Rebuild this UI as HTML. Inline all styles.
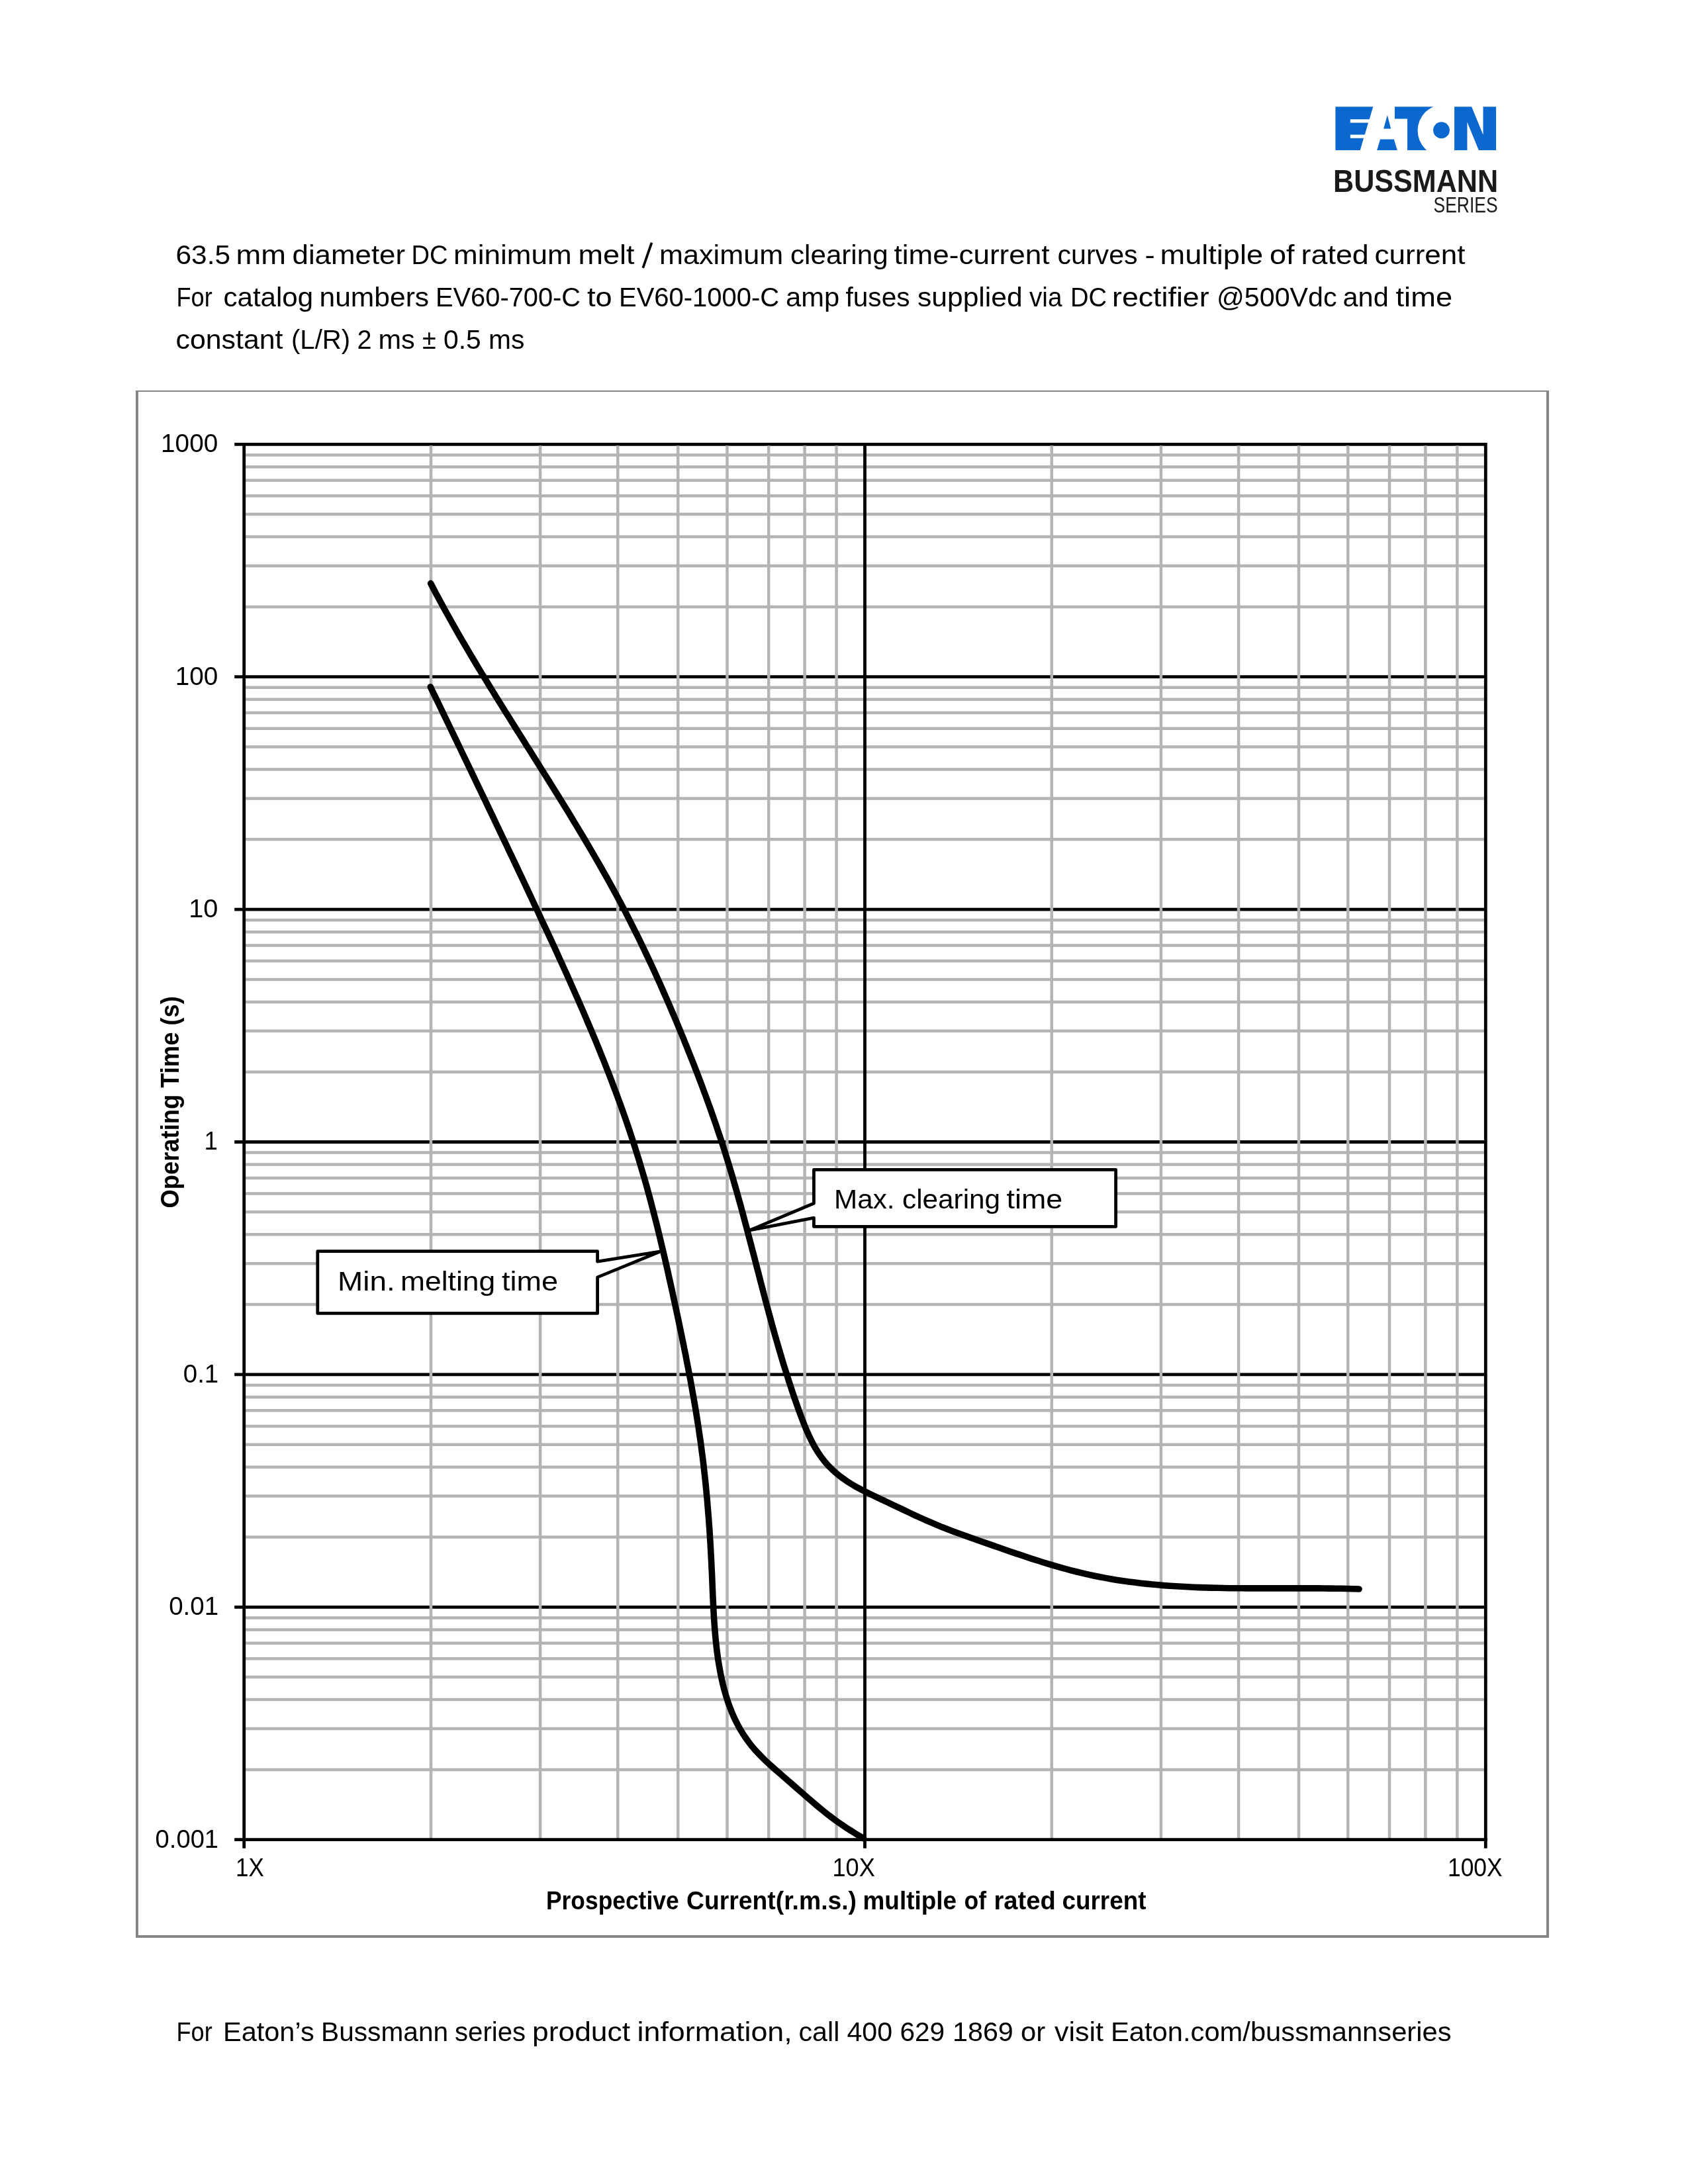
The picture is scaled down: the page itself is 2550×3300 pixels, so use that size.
<!DOCTYPE html>
<html><head><meta charset="utf-8"><title>Time-current curves</title>
<style>
html,body{margin:0;padding:0;background:#fff;}
body{width:2550px;height:3300px;overflow:hidden;}
svg{display:block;font-family:"Liberation Sans",sans-serif;fill:#000;will-change:transform;-webkit-font-smoothing:antialiased;}
</style></head><body>
<svg width="2550" height="3300" viewBox="0 0 2550 3300">
<rect x="205" y="590" width="2135" height="2" fill="#868686"/>
<rect x="205" y="590" width="4" height="2338" fill="#868686"/>
<rect x="2336" y="590" width="4" height="2338" fill="#868686"/>
<rect x="205" y="2924" width="2135" height="4" fill="#868686"/>
<path d="M368.7 2673.9H2244.3M368.7 2612.0H2244.3M368.7 2568.1H2244.3M368.7 2534.1H2244.3M368.7 2506.3H2244.3M368.7 2482.7H2244.3M368.7 2462.4H2244.3M368.7 2444.4H2244.3M368.7 2322.5H2244.3M368.7 2260.6H2244.3M368.7 2216.7H2244.3M368.7 2182.7H2244.3M368.7 2154.9H2244.3M368.7 2131.3H2244.3M368.7 2111.0H2244.3M368.7 2093.0H2244.3M368.7 1971.1H2244.3M368.7 1909.2H2244.3M368.7 1865.3H2244.3M368.7 1831.3H2244.3M368.7 1803.5H2244.3M368.7 1779.9H2244.3M368.7 1759.6H2244.3M368.7 1741.6H2244.3M368.7 1619.7H2244.3M368.7 1557.8H2244.3M368.7 1513.9H2244.3M368.7 1479.9H2244.3M368.7 1452.1H2244.3M368.7 1428.5H2244.3M368.7 1408.2H2244.3M368.7 1390.2H2244.3M368.7 1268.3H2244.3M368.7 1206.4H2244.3M368.7 1162.5H2244.3M368.7 1128.5H2244.3M368.7 1100.7H2244.3M368.7 1077.1H2244.3M368.7 1056.8H2244.3M368.7 1038.8H2244.3M368.7 916.9H2244.3M368.7 855.0H2244.3M368.7 811.1H2244.3M368.7 777.1H2244.3M368.7 749.3H2244.3M368.7 725.7H2244.3M368.7 705.4H2244.3M368.7 687.4H2244.3" stroke="#b4b4b4" stroke-width="4.5" fill="none"/>
<path d="M354.2 2428.3H2244.3M354.2 2076.9H2244.3M354.2 1725.5H2244.3M354.2 1374.1H2244.3M354.2 1022.7H2244.3M354.2 671.3H2244.3" stroke="#000" stroke-width="4.8" fill="none"/>
<path d="M651.0 673.3V2779.7M816.1 673.3V2779.7M933.3 673.3V2779.7M1024.2 673.3V2779.7M1098.5 673.3V2779.7M1161.2 673.3V2779.7M1215.6 673.3V2779.7M1263.6 673.3V2779.7M1588.8 673.3V2779.7M1753.9 673.3V2779.7M1871.1 673.3V2779.7M1962.0 673.3V2779.7M2036.3 673.3V2779.7M2099.0 673.3V2779.7M2153.4 673.3V2779.7M2201.4 673.3V2779.7" stroke="#b4b4b4" stroke-width="4.5" fill="none"/>
<path d="M1306.5 668.9V2792.7M2244.3 668.9V2792.7" stroke="#000" stroke-width="4.8" fill="none"/>
<path d="M368.7 668.9V2792.7M354.2 2779.7H2246.7" stroke="#000" stroke-width="4.8" fill="none"/>
<path d="M650.6 881.4L654.7 889.3L658.9 897.2L663.1 905.1L667.4 912.9L671.6 920.7L676.0 928.5L680.3 936.3L684.7 944.1L689.1 951.8L693.5 959.6L698.0 967.3L702.5 975.0L707.0 982.7L711.5 990.4L716.1 998.0L720.7 1005.7L725.3 1013.4L729.9 1021.0L734.6 1028.6L739.2 1036.2L743.9 1043.8L748.6 1051.4L753.3 1059.0L758.0 1066.6L762.7 1074.2L767.5 1081.8L772.2 1089.3L777.0 1096.9L781.7 1104.5L786.5 1112.0L791.2 1119.6L796.0 1127.2L800.8 1134.7L805.5 1142.3L810.3 1149.8L815.0 1157.4L819.8 1165.0L824.5 1172.5L829.3 1180.1L834.0 1187.7L838.7 1195.3L843.5 1202.8L848.2 1210.4L852.8 1218.0L857.5 1225.6L862.2 1233.3L866.8 1240.9L871.4 1248.5L876.0 1256.2L880.6 1263.8L885.2 1271.5L889.7 1279.2L894.2 1286.9L898.7 1294.6L903.2 1302.3L907.6 1310.0L912.0 1317.8L916.4 1325.5L920.7 1333.3L925.0 1341.1L929.3 1349.0L933.5 1356.8L937.7 1364.6L941.9 1372.5L946.0 1380.4L950.1 1388.4L954.1 1396.3L958.1 1404.3L962.1 1412.2L966.0 1420.2L969.9 1428.3L973.8 1436.3L977.6 1444.4L981.4 1452.4L985.2 1460.5L988.9 1468.6L992.6 1476.7L996.3 1484.9L999.9 1493.0L1003.5 1501.2L1007.1 1509.4L1010.7 1517.6L1014.2 1525.8L1017.7 1534.0L1021.2 1542.2L1024.6 1550.5L1028.0 1558.7L1031.5 1567.0L1034.8 1575.3L1038.2 1583.6L1041.5 1591.9L1044.8 1600.2L1048.1 1608.5L1051.3 1616.8L1054.6 1625.2L1057.7 1633.5L1060.9 1641.9L1064.0 1650.3L1067.1 1658.7L1070.1 1667.1L1073.2 1675.5L1076.1 1683.9L1079.1 1692.3L1082.0 1700.8L1084.8 1709.2L1087.7 1717.7L1090.5 1726.1L1093.2 1734.6L1095.9 1743.1L1098.5 1751.6L1101.2 1760.1L1103.7 1768.6L1106.3 1777.2L1108.7 1785.7L1111.2 1794.3L1113.6 1802.8L1116.0 1811.4L1118.4 1819.9L1120.7 1828.5L1123.0 1837.1L1125.3 1845.7L1127.6 1854.3L1129.9 1862.9L1132.1 1871.5L1134.4 1880.1L1136.6 1888.7L1138.9 1897.3L1141.1 1905.9L1143.3 1914.5L1145.6 1923.1L1147.8 1931.8L1150.0 1940.4L1152.3 1949.0L1154.5 1957.6L1156.8 1966.2L1159.1 1974.8L1161.4 1983.5L1163.8 1992.1L1166.1 2000.7L1168.5 2009.3L1170.9 2017.9L1173.4 2026.5L1175.9 2035.1L1178.4 2043.7L1180.9 2052.2L1183.5 2060.8L1186.2 2069.4L1188.9 2077.9L1191.6 2086.5L1194.4 2095.1L1197.2 2103.6L1200.1 2112.1L1203.1 2120.6L1206.1 2129.2L1209.2 2137.7L1212.4 2146.1L1215.7 2154.5L1219.2 2162.8L1222.9 2171.0L1226.8 2178.9L1231.0 2186.7L1235.6 2194.2L1240.5 2201.4L1245.9 2208.4L1251.6 2214.9L1257.9 2221.1L1264.5 2227.0L1271.5 2232.5L1278.8 2237.7L1286.4 2242.5L1294.1 2247.1L1302.0 2251.3L1310.1 2255.4L1318.2 2259.3L1326.3 2263.1L1334.3 2266.9L1342.4 2270.8L1350.4 2274.6L1358.5 2278.4L1366.5 2282.2L1374.5 2286.0L1382.6 2289.8L1390.7 2293.5L1398.8 2297.1L1407.0 2300.7L1415.2 2304.2L1423.4 2307.6L1431.7 2310.8L1440.0 2314.0L1448.4 2317.1L1456.7 2320.1L1465.1 2323.1L1473.6 2326.0L1482.0 2329.0L1490.4 2331.9L1498.9 2334.9L1507.3 2337.8L1515.8 2340.8L1524.2 2343.7L1532.7 2346.6L1541.2 2349.4L1549.7 2352.3L1558.2 2355.1L1566.7 2357.8L1575.2 2360.5L1583.8 2363.1L1592.3 2365.7L1600.9 2368.1L1609.5 2370.5L1618.1 2372.8L1626.8 2375.0L1635.4 2377.1L1644.1 2379.1L1652.8 2381.0L1661.5 2382.8L1670.2 2384.4L1679.0 2386.0L1687.7 2387.4L1696.5 2388.7L1705.3 2390.0L1714.1 2391.1L1723.0 2392.2L1731.8 2393.1L1740.7 2394.0L1749.5 2394.8L1758.4 2395.6L1767.3 2396.2L1776.2 2396.8L1785.1 2397.3L1794.1 2397.8L1803.0 2398.2L1811.9 2398.6L1820.9 2398.9L1829.8 2399.1L1838.8 2399.3L1847.8 2399.5L1856.7 2399.7L1865.7 2399.8L1874.7 2399.8L1883.6 2399.9L1892.6 2399.9L1901.6 2399.9L1910.5 2399.9L1919.5 2399.9L1928.4 2399.9L1937.4 2399.9L1946.4 2399.9L1955.3 2399.9L1964.2 2399.9L1973.2 2399.9L1982.1 2399.9L1991.0 2399.9L1999.9 2400.0L2008.8 2400.1L2017.7 2400.2L2026.6 2400.3L2035.4 2400.5L2044.3 2400.8L2053.1 2401.0" stroke="#000" stroke-width="9.6" fill="none" stroke-linecap="round" stroke-linejoin="round"/>
<path d="M650.3 1037.9L653.5 1044.6L656.7 1051.2L660.0 1057.9L663.2 1064.5L666.4 1071.2L669.6 1077.8L672.8 1084.5L676.0 1091.1L679.2 1097.8L682.4 1104.4L685.6 1111.1L688.8 1117.7L692.0 1124.4L695.2 1131.0L698.4 1137.7L701.6 1144.3L704.8 1151.0L708.0 1157.6L711.2 1164.3L714.3 1170.9L717.5 1177.5L720.7 1184.2L723.9 1190.8L727.1 1197.5L730.3 1204.1L733.5 1210.8L736.6 1217.4L739.8 1224.1L743.0 1230.7L746.2 1237.4L749.3 1244.0L752.5 1250.7L755.7 1257.3L758.8 1264.0L762.0 1270.6L765.2 1277.3L768.3 1284.0L771.5 1290.6L774.7 1297.3L777.8 1303.9L781.0 1310.6L784.1 1317.3L787.3 1323.9L790.4 1330.6L793.6 1337.3L796.7 1343.9L799.8 1350.6L803.0 1357.3L806.1 1364.0L809.2 1370.6L812.4 1377.3L815.5 1384.0L818.6 1390.7L821.7 1397.4L824.9 1404.1L828.0 1410.8L831.1 1417.4L834.2 1424.1L837.3 1430.8L840.4 1437.6L843.4 1444.3L846.5 1451.0L849.6 1457.7L852.6 1464.4L855.7 1471.1L858.7 1477.9L861.7 1484.6L864.7 1491.4L867.7 1498.1L870.7 1504.9L873.7 1511.6L876.6 1518.4L879.6 1525.1L882.5 1531.9L885.4 1538.7L888.3 1545.5L891.2 1552.3L894.1 1559.1L896.9 1565.9L899.8 1572.7L902.6 1579.5L905.4 1586.3L908.1 1593.2L910.9 1600.0L913.6 1606.8L916.3 1613.7L919.0 1620.6L921.7 1627.4L924.3 1634.3L926.9 1641.2L929.5 1648.1L932.1 1655.0L934.6 1661.9L937.2 1668.8L939.7 1675.8L942.1 1682.7L944.6 1689.7L947.0 1696.6L949.4 1703.6L951.7 1710.6L954.0 1717.6L956.3 1724.6L958.6 1731.6L960.8 1738.6L963.0 1745.6L965.2 1752.7L967.3 1759.7L969.4 1766.8L971.5 1773.9L973.6 1780.9L975.6 1788.0L977.6 1795.1L979.5 1802.3L981.5 1809.4L983.4 1816.5L985.2 1823.6L987.1 1830.8L988.9 1837.9L990.8 1845.1L992.6 1852.2L994.3 1859.4L996.1 1866.6L997.8 1873.8L999.5 1881.0L1001.2 1888.1L1002.9 1895.3L1004.6 1902.5L1006.2 1909.7L1007.9 1916.9L1009.5 1924.1L1011.1 1931.4L1012.7 1938.6L1014.3 1945.8L1015.9 1953.0L1017.4 1960.2L1019.0 1967.4L1020.6 1974.6L1022.1 1981.9L1023.7 1989.1L1025.2 1996.3L1026.7 2003.5L1028.2 2010.7L1029.7 2017.9L1031.2 2025.2L1032.7 2032.4L1034.1 2039.6L1035.6 2046.8L1037.0 2054.1L1038.4 2061.3L1039.8 2068.5L1041.2 2075.8L1042.6 2083.0L1043.9 2090.3L1045.2 2097.5L1046.5 2104.8L1047.8 2112.0L1049.1 2119.3L1050.3 2126.5L1051.5 2133.8L1052.7 2141.1L1053.8 2148.3L1055.0 2155.6L1056.0 2162.9L1057.1 2170.2L1058.2 2177.5L1059.2 2184.8L1060.1 2192.1L1061.1 2199.4L1062.0 2206.7L1062.9 2214.0L1063.7 2221.4L1064.5 2228.7L1065.3 2236.0L1066.1 2243.4L1066.8 2250.7L1067.5 2258.1L1068.2 2265.4L1068.8 2272.8L1069.4 2280.1L1070.0 2287.5L1070.6 2294.9L1071.1 2302.2L1071.7 2309.6L1072.2 2317.0L1072.6 2324.3L1073.1 2331.7L1073.5 2339.1L1073.9 2346.5L1074.3 2353.8L1074.7 2361.2L1075.0 2368.6L1075.4 2375.9L1075.7 2383.3L1076.0 2390.7L1076.3 2398.0L1076.6 2405.4L1076.9 2412.8L1077.3 2420.1L1077.6 2427.5L1078.0 2434.8L1078.4 2442.2L1078.9 2449.5L1079.4 2456.9L1080.0 2464.2L1080.6 2471.5L1081.3 2478.8L1082.1 2486.2L1082.9 2493.5L1083.9 2500.8L1084.9 2508.1L1086.1 2515.4L1087.4 2522.6L1088.7 2529.9L1090.3 2537.2L1091.9 2544.4L1093.7 2551.6L1095.7 2558.7L1097.8 2565.8L1100.1 2572.8L1102.6 2579.7L1105.3 2586.6L1108.2 2593.4L1111.3 2600.0L1114.7 2606.6L1118.2 2613.0L1122.1 2619.3L1126.1 2625.4L1130.4 2631.4L1134.9 2637.3L1139.6 2642.9L1144.6 2648.4L1149.7 2653.7L1154.9 2658.9L1160.3 2663.9L1165.8 2668.9L1171.3 2673.8L1176.9 2678.6L1182.4 2683.5L1188.0 2688.3L1193.5 2693.2L1199.1 2698.0L1204.6 2702.9L1210.2 2707.7L1215.8 2712.6L1221.3 2717.4L1226.9 2722.2L1232.5 2727.0L1238.2 2731.7L1243.9 2736.4L1249.6 2740.9L1255.4 2745.4L1261.3 2749.8L1267.3 2754.1L1273.4 2758.3L1279.6 2762.4L1285.8 2766.4L1292.0 2770.3L1298.4 2774.1L1304.7 2777.9" stroke="#000" stroke-width="9.6" fill="none" stroke-linecap="round" stroke-linejoin="round"/>
<path d="M1229.45 1767.4H1685.6V1853.4H1229.45V1840.1L1132.3 1859L1229.45 1818.2Z" fill="#fff" stroke="#000" stroke-width="4.8" stroke-linejoin="round"/>
<path d="M479.8 1890.7H902.6V1906.2L998 1890.8L902.6 1929.9V1984.4H479.8Z" fill="#fff" stroke="#000" stroke-width="4.8" stroke-linejoin="round"/>
<text x="265.50" y="398.60" font-size="41.3" textLength="82.65" lengthAdjust="spacingAndGlyphs">63.5</text>
<text x="356.50" y="398.60" font-size="41.3" textLength="75.48" lengthAdjust="spacingAndGlyphs">mm</text>
<text x="441.50" y="398.60" font-size="41.3" textLength="170.55" lengthAdjust="spacingAndGlyphs">diameter</text>
<text x="621.50" y="398.60" font-size="41.3" textLength="55.00" lengthAdjust="spacingAndGlyphs">DC</text>
<text x="685.00" y="398.60" font-size="41.3" textLength="178.70" lengthAdjust="spacingAndGlyphs">minimum</text>
<text x="873.50" y="398.60" font-size="41.3" textLength="85.12" lengthAdjust="spacingAndGlyphs">melt</text>
<path d="M971.3 404.8L984.5 366.6" stroke="#000" stroke-width="3.7" fill="none"/>
<text x="996.00" y="398.60" font-size="41.3" textLength="187.17" lengthAdjust="spacingAndGlyphs">maximum</text>
<text x="1194.00" y="398.60" font-size="41.3" textLength="147.63" lengthAdjust="spacingAndGlyphs">clearing</text>
<text x="1350.50" y="398.60" font-size="41.3" textLength="235.00" lengthAdjust="spacingAndGlyphs">time-current</text>
<text x="1597.50" y="398.60" font-size="41.3" textLength="121.08" lengthAdjust="spacingAndGlyphs">curves</text>
<text x="1729.50" y="398.60" font-size="41.3" textLength="15.19" lengthAdjust="spacingAndGlyphs">-</text>
<text x="1752.50" y="398.60" font-size="41.3" textLength="155.66" lengthAdjust="spacingAndGlyphs">multiple</text>
<text x="1918.00" y="398.60" font-size="41.3" textLength="37.59" lengthAdjust="spacingAndGlyphs">of</text>
<text x="1965.50" y="398.60" font-size="41.3" textLength="102.35" lengthAdjust="spacingAndGlyphs">rated</text>
<text x="2076.50" y="398.60" font-size="41.3" textLength="137.06" lengthAdjust="spacingAndGlyphs">current</text>
<text x="266.50" y="462.60" font-size="41.3" textLength="54.19" lengthAdjust="spacingAndGlyphs">For</text>
<text x="337.50" y="462.60" font-size="41.3" textLength="135.65" lengthAdjust="spacingAndGlyphs">catalog</text>
<text x="482.50" y="462.60" font-size="41.3" textLength="165.62" lengthAdjust="spacingAndGlyphs">numbers</text>
<text x="658.00" y="462.60" font-size="41.3" textLength="219.12" lengthAdjust="spacingAndGlyphs">EV60-700-C</text>
<text x="887.00" y="462.60" font-size="41.3" textLength="37.67" lengthAdjust="spacingAndGlyphs">to</text>
<text x="935.00" y="462.60" font-size="41.3" textLength="242.11" lengthAdjust="spacingAndGlyphs">EV60-1000-C</text>
<text x="1187.00" y="462.60" font-size="41.3" textLength="81.13" lengthAdjust="spacingAndGlyphs">amp</text>
<text x="1277.50" y="462.60" font-size="41.3" textLength="97.04" lengthAdjust="spacingAndGlyphs">fuses</text>
<text x="1386.00" y="462.60" font-size="41.3" textLength="158.62" lengthAdjust="spacingAndGlyphs">supplied</text>
<text x="1555.00" y="462.60" font-size="41.3" textLength="49.52" lengthAdjust="spacingAndGlyphs">via</text>
<text x="1617.00" y="462.60" font-size="41.3" textLength="55.01" lengthAdjust="spacingAndGlyphs">DC</text>
<text x="1680.00" y="462.60" font-size="41.3" textLength="146.58" lengthAdjust="spacingAndGlyphs">rectifier</text>
<text x="1838.00" y="462.60" font-size="41.3" textLength="181.61" lengthAdjust="spacingAndGlyphs">@500Vdc</text>
<text x="2028.50" y="462.60" font-size="41.3" textLength="69.27" lengthAdjust="spacingAndGlyphs">and</text>
<text x="2108.50" y="462.60" font-size="41.3" textLength="85.61" lengthAdjust="spacingAndGlyphs">time</text>
<text x="265.50" y="527.30" font-size="41.3" textLength="162.03" lengthAdjust="spacingAndGlyphs">constant</text>
<text x="440.00" y="527.30" font-size="41.3" textLength="89.26" lengthAdjust="spacingAndGlyphs">(L/R)</text>
<text x="539.50" y="527.30" font-size="41.3" textLength="22.04" lengthAdjust="spacingAndGlyphs">2</text>
<text x="571.50" y="527.30" font-size="41.3" textLength="55.35" lengthAdjust="spacingAndGlyphs">ms</text>
<text x="638.00" y="527.30" font-size="41.3" textLength="20.73" lengthAdjust="spacingAndGlyphs">±</text>
<text x="670.00" y="527.30" font-size="41.3" textLength="56.73" lengthAdjust="spacingAndGlyphs">0.5</text>
<text x="738.00" y="527.30" font-size="41.3" textLength="54.38" lengthAdjust="spacingAndGlyphs">ms</text>
<text x="266.50" y="3083.80" font-size="41.3" textLength="54.19" lengthAdjust="spacingAndGlyphs">For</text>
<text x="337.00" y="3083.80" font-size="41.3" textLength="137.65" lengthAdjust="spacingAndGlyphs">Eaton’s</text>
<text x="485.00" y="3083.80" font-size="41.3" textLength="192.17" lengthAdjust="spacingAndGlyphs">Bussmann</text>
<text x="687.00" y="3083.80" font-size="41.3" textLength="107.06" lengthAdjust="spacingAndGlyphs">series</text>
<text x="804.00" y="3083.80" font-size="41.3" textLength="148.07" lengthAdjust="spacingAndGlyphs">product</text>
<text x="962.50" y="3083.80" font-size="41.3" textLength="234.22" lengthAdjust="spacingAndGlyphs">information,</text>
<text x="1206.50" y="3083.80" font-size="41.3" textLength="61.87" lengthAdjust="spacingAndGlyphs">call</text>
<text x="1279.50" y="3083.80" font-size="41.3" textLength="68.58" lengthAdjust="spacingAndGlyphs">400</text>
<text x="1359.50" y="3083.80" font-size="41.3" textLength="67.68" lengthAdjust="spacingAndGlyphs">629</text>
<text x="1439.00" y="3083.80" font-size="41.3" textLength="91.78" lengthAdjust="spacingAndGlyphs">1869</text>
<text x="1542.00" y="3083.80" font-size="41.3" textLength="37.16" lengthAdjust="spacingAndGlyphs">or</text>
<text x="1593.00" y="3083.80" font-size="41.3" textLength="74.02" lengthAdjust="spacingAndGlyphs">visit</text>
<text x="1678.00" y="3083.80" font-size="41.3" textLength="514.54" lengthAdjust="spacingAndGlyphs">Eaton.com/bussmannseries</text>
<text x="243.10" y="683.10" font-size="38.5" textLength="86.11" lengthAdjust="spacingAndGlyphs">1000</text>
<text x="264.70" y="1034.50" font-size="38.5" textLength="64.55" lengthAdjust="spacingAndGlyphs">100</text>
<text x="285.30" y="1385.90" font-size="38.5" textLength="44.15" lengthAdjust="spacingAndGlyphs">10</text>
<text x="308.50" y="1737.30" font-size="38.5" textLength="20.36" lengthAdjust="spacingAndGlyphs">1</text>
<text x="276.80" y="2088.70" font-size="38.5" textLength="53.41" lengthAdjust="spacingAndGlyphs">0.1</text>
<text x="255.20" y="2440.10" font-size="38.5" textLength="74.97" lengthAdjust="spacingAndGlyphs">0.01</text>
<text x="234.60" y="2791.50" font-size="38.5" textLength="95.49" lengthAdjust="spacingAndGlyphs">0.001</text>
<text x="356.00" y="2835.00" font-size="38.5" textLength="42.79" lengthAdjust="spacingAndGlyphs">1X</text>
<text x="1257.50" y="2835.00" font-size="38.5" textLength="64.31" lengthAdjust="spacingAndGlyphs">10X</text>
<text x="2187.00" y="2835.00" font-size="38.5" textLength="82.64" lengthAdjust="spacingAndGlyphs">100X</text>
<text x="825.00" y="2885.00" font-size="38.5" font-weight="bold" textLength="200.56" lengthAdjust="spacingAndGlyphs">Prospective</text>
<text x="1037.00" y="2885.00" font-size="38.5" font-weight="bold" textLength="257.05" lengthAdjust="spacingAndGlyphs">Current(r.m.s.)</text>
<text x="1303.50" y="2885.00" font-size="38.5" font-weight="bold" textLength="141.58" lengthAdjust="spacingAndGlyphs">multiple</text>
<text x="1456.50" y="2885.00" font-size="38.5" font-weight="bold" textLength="33.56" lengthAdjust="spacingAndGlyphs">of</text>
<text x="1501.50" y="2885.00" font-size="38.5" font-weight="bold" textLength="93.25" lengthAdjust="spacingAndGlyphs">rated</text>
<text x="1604.50" y="2885.00" font-size="38.5" font-weight="bold" textLength="127.02" lengthAdjust="spacingAndGlyphs">current</text>
<text x="0" y="0" font-size="38.5" font-weight="bold" textLength="320.42" lengthAdjust="spacingAndGlyphs" transform="translate(270.00 1825.50) rotate(-90)">Operating Time (s)</text>
<text x="1260.00" y="1825.50" font-size="41.5" textLength="91.47" lengthAdjust="spacingAndGlyphs">Max.</text>
<text x="1363.00" y="1825.50" font-size="41.5" textLength="148.15" lengthAdjust="spacingAndGlyphs">clearing</text>
<text x="1520.50" y="1825.50" font-size="41.5" textLength="84.61" lengthAdjust="spacingAndGlyphs">time</text>
<text x="510.00" y="1950.00" font-size="41.5" textLength="86.69" lengthAdjust="spacingAndGlyphs">Min.</text>
<text x="605.00" y="1950.00" font-size="41.5" textLength="143.23" lengthAdjust="spacingAndGlyphs">melting</text>
<text x="758.00" y="1950.00" font-size="41.5" textLength="85.12" lengthAdjust="spacingAndGlyphs">time</text>
<defs><clipPath id="tc"><rect x="2100" y="160.90" width="97.39" height="66.52"/></clipPath></defs><g fill="#0b68cf"><polygon points="2017.42,161.23 2074.31,161.23 2068.67,180.31 2039.81,180.31 2039.81,185.62 2067.01,185.62 2061.71,203.53 2039.81,203.53 2039.81,208.84 2060.05,208.84 2054.74,227.08 2017.42,227.08"/><polygon points="2095.88,174.00 2101.18,194.41 2090.07,194.41"/><polygon points="2085.09,210.50 2105.83,210.50 2110.81,227.08 2080.12,227.08"/><polygon points="2106.99,161.23 2182.46,161.23 2182.46,227.08 2126.07,227.08 2126.07,179.48 2106.99,179.48"/><circle cx="2180.8" cy="197.3" r="39.2" fill="#fff" clip-path="url(#tc)"/><circle cx="2177.5" cy="196.7" r="12.4"/><polygon points="2197.06,161.23 2223.10,161.23 2240.52,203.86 2240.52,161.23 2260.09,161.23 2260.09,227.08 2233.89,227.08 2216.47,184.45 2216.47,227.08 2197.06,227.08"/></g>
<text x="2014.00" y="289.80" font-size="47.5" font-weight="bold" textLength="249.13" lengthAdjust="spacingAndGlyphs" fill="#1a1a1a">BUSSMANN</text>
<text x="2165.50" y="320.80" font-size="33" textLength="97.07" lengthAdjust="spacingAndGlyphs" fill="#1a1a1a">SERIES</text>
</svg>
</body></html>
